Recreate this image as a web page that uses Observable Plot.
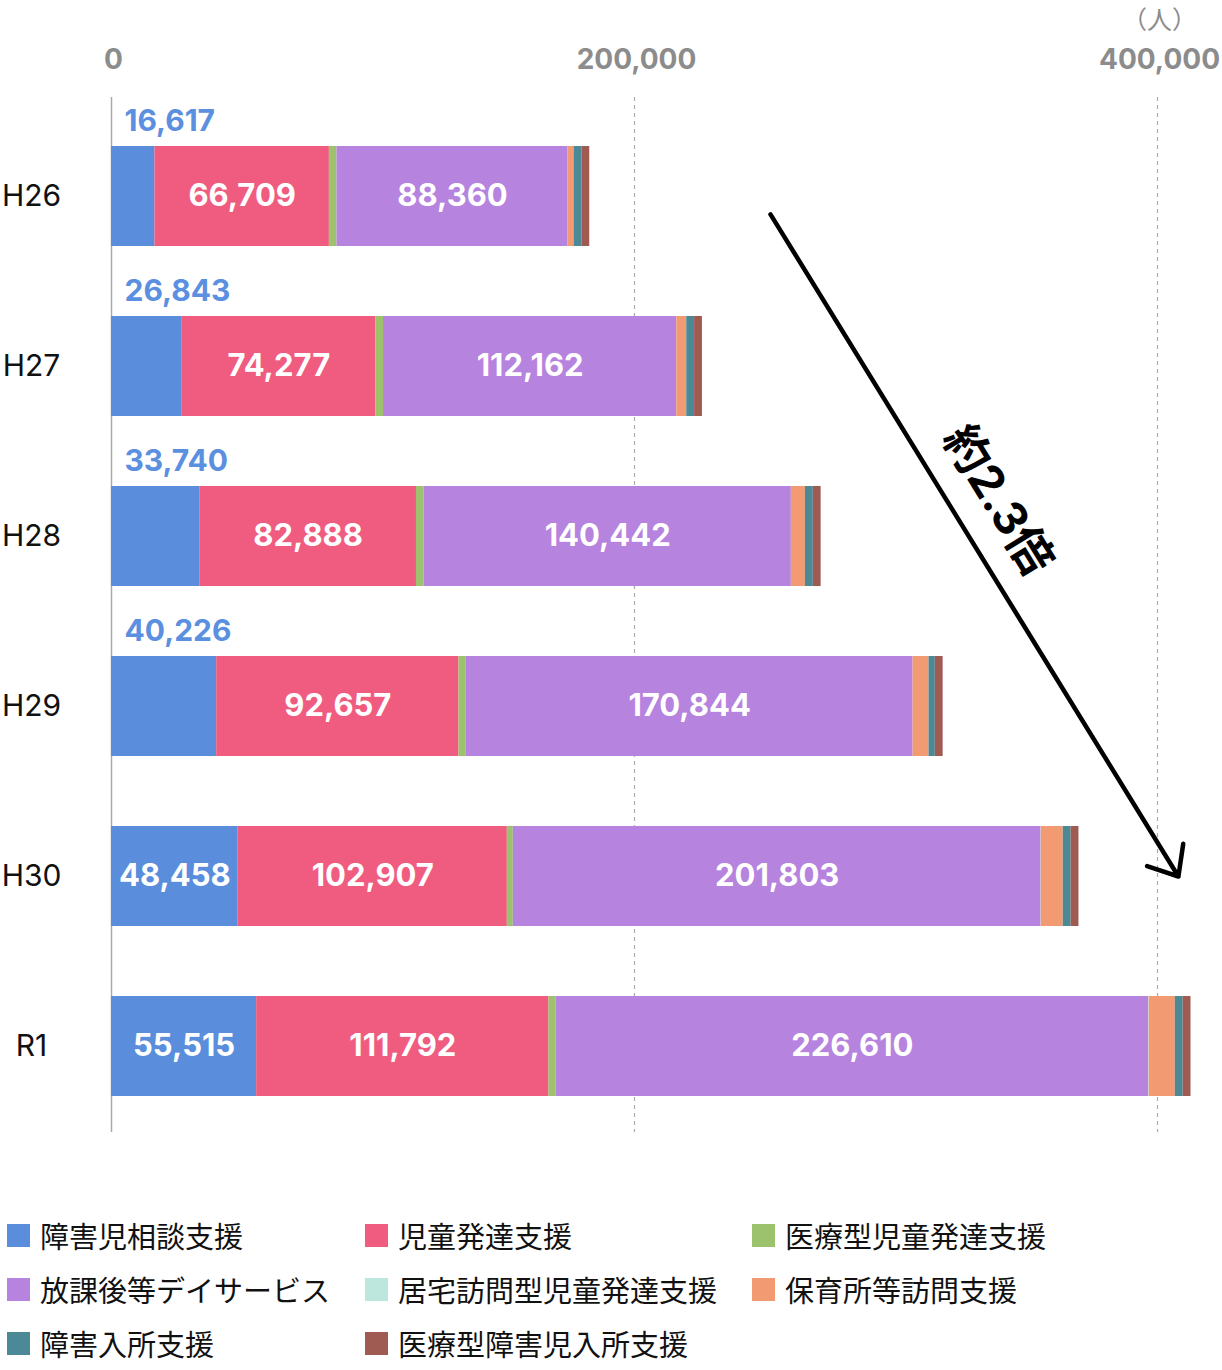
<!DOCTYPE html>
<html>
<head>
<meta charset="utf-8">
<script src="https://cdn.jsdelivr.net/npm/d3@7"></script>
<script src="https://cdn.jsdelivr.net/npm/@observablehq/plot@0.6"></script>
<style>
  html, body { margin: 0; padding: 0; background: #fff; }
  body { font-family: "Noto Sans CJK JP", "Noto Sans", sans-serif; width: 1222px; }
  #chart svg { display: block; overflow: visible; }
  #legend { padding: 18px 0 0 7px; display: grid; grid-template-columns: 358px 387px auto; }
  .item { height: 54px; display: flex; align-items: center; font-size: 29px; color: #111; }
  .sw { width: 23px; height: 23px; margin-right: 10px; flex: none; }
</style>
</head>
<body>
<div id="chart"></div>
<div id="legend"></div>
<script>
// ---- data ----
const years = ["H26", "H27", "H28", "H29", "H30", "R1"];
const series = ["障害児相談支援", "児童発達支援", "医療型児童発達支援", "放課後等デイサービス", "居宅訪問型児童発達支援", "保育所等訪問支援", "障害入所支援", "医療型障害児入所支援"];
const colors = ["#5A8EDC", "#F05C80", "#9CC26E", "#B683DE", "#BDE6DD", "#F29B72", "#4A8995", "#9F5B52"];

const soudan   = [16617, 26843, 33740, 40226, 48458, 55515];      // 障害児相談支援
const jihatsu  = [66709, 74277, 82888, 92657, 102907, 111792];    // 児童発達支援
const iryoJi   = [2900, 2900, 2900, 2800, 2300, 2700];            // 医療型児童発達支援 (estimated)
const houday   = [88360, 112162, 140442, 170844, 201803, 226610]; // 放課後等デイサービス
const kyotaku  = [0, 0, 0, 0, 100, 200];                          // 居宅訪問型児童発達支援 (estimated)
const hoiku    = [2300, 3800, 5400, 6100, 8400, 10000];           // 保育所等訪問支援 (estimated)
const nyusho   = [3000, 3000, 3000, 2400, 3000, 3000];            // 障害入所支援 (estimated)
const iryoNyu  = [3000, 3000, 3000, 3000, 3000, 3000];            // 医療型障害児入所支援 (estimated)

const xTicks = [0, 200000, 400000];
const aboveYears = ["H26", "H27", "H28", "H29"];
const arrowData = [{x1: 247800, y1: "H26", x2: 408000, y2: "H30"}];
const ratioData = [{x: 338800, y: "H28", label: "約2.3倍"}];
const unitLabel = ["（人）"];

// ---- build ----
const valueSets = [soudan, jihatsu, iryoJi, houday, kyotaku, hoiku, nyusho, iryoNyu];
const data = years.flatMap((y, i) => series.map((s, j) => ({year: y, series: s, value: valueSets[j][i]})));
const fmt = d3.format(",");
const inside = d =>
  d.series === series[1] || d.series === series[3] ||
  (d.series === series[0] && !aboveYears.includes(d.year));

const font = 'Inter, "Noto Sans CJK JP", "Noto Sans", sans-serif';

const chart = Plot.plot({
  width: 1222,
  height: 1190,
  marginLeft: 111,
  marginRight: 65,
  marginTop: 97,
  marginBottom: 58,
  style: {fontFamily: font, background: "#fff"},
  x: {domain: [0, 400000], axis: null},
  y: {domain: years, paddingInner: 70 / 170, paddingOuter: 0.25, align: 0.5765, axis: null},
  color: {domain: series, range: colors},
  marks: [
    Plot.ruleX([200000, 400000], {stroke: "#aaa", strokeWidth: 1.2, strokeDasharray: "4,4"}),
    Plot.ruleX([0], {stroke: "#aaa", strokeWidth: 1.5}),
    Plot.barX(data, Plot.stackX({x: "value", y: "year", fill: "series", order: series})),
    Plot.text(data, Plot.stackX({
      x: "value", y: "year", z: "series", order: series,
      text: d => inside(d) ? fmt(d.value) : "",
      fill: "white", fontSize: 31, fontWeight: "bold"
    })),
    Plot.text(data.filter(d => d.series === series[0] && aboveYears.includes(d.year)), {
      x: 0, y: "year", dx: 13, dy: -75, textAnchor: "start",
      text: d => fmt(d.value), fill: "#5B8FDF", fontSize: 30, fontWeight: "bold"
    }),
    Plot.text(years, {y: d => d, text: d => d, frameAnchor: "left", dx: -80, textAnchor: "middle", fontSize: 30, fill: "#111"}),
    Plot.text(xTicks, {x: d => d, text: d => fmt(d), frameAnchor: "top", dy: -37, dx: 2, fill: "#8c8c8c", fontSize: 28, fontWeight: "bold", lineAnchor: "middle"}),
    Plot.text(unitLabel, {x: 400000, text: d => d, frameAnchor: "top", dy: -77, dx: 2, fill: "#8c8c8c", fontSize: 25, fontFamily: '"Noto Sans CJK JP", sans-serif', lineAnchor: "middle"}),
    Plot.arrow(arrowData, {x1: "x1", y1: "y1", x2: "x2", y2: "y2", stroke: "black", strokeWidth: 4.5, headLength: 11, headAngle: 80, insetStart: 21}),
    Plot.text(ratioData, {x: "x", y: "y", text: "label", dy: -36, rotate: 58.4, fontSize: 46, fontWeight: "bold", fill: "#000"})
  ]
});
document.getElementById("chart").appendChild(chart);

// ---- legend ----
const legend = document.getElementById("legend");
series.forEach((s, i) => {
  const item = document.createElement("div");
  item.className = "item";
  const sw = document.createElement("span");
  sw.className = "sw";
  sw.style.background = colors[i];
  const t = document.createElement("span");
  t.textContent = s;
  item.appendChild(sw);
  item.appendChild(t);
  legend.appendChild(item);
});
</script>
</body>
</html>
